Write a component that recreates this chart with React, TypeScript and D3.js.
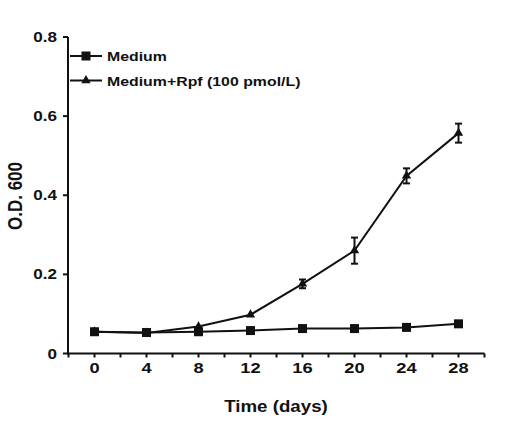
import React from "react";
import * as d3 from "d3";

const days = [0, 4, 8, 12, 16, 20, 24, 28];
const medium = [0.055, 0.053, 0.055, 0.058, 0.063, 0.063, 0.066, 0.075];
const rpf = [0.055, 0.052, 0.068, 0.098, 0.176, 0.26, 0.449, 0.557];
const rpfErr = [0, 0, 0, 0, 0.011, 0.033, 0.019, 0.024];
const yTicks = [0, 0.2, 0.4, 0.6, 0.8];
const yTickLabels = ["0", "0.2", "0.4", "0.6", "0.8"];
const xMinorTicks = [-2, 2, 6, 10, 14, 18, 22, 26, 30];
const seriesNames = ["Medium", "Medium+Rpf (100 pmol/L)"];

const W = 509;
const H = 433;
const FONT = "'Liberation Sans', Arial, sans-serif";
const SX = 1.22;

function STxt({ x, y, size, anchor = "start", children, sx = SX }: any) {
  return (
    <text
      transform={`translate(${x},${y}) scale(${sx},1)`}
      fontFamily={FONT}
      fontWeight="bold"
      fontSize={size}
      textAnchor={anchor}
      fill="#111"
    >
      {children}
    </text>
  );
}

export default function App() {
  const x = d3.scaleLinear().domain([-2, 30]).range([68.5, 484.5]);
  const y = d3.scaleLinear().domain([0, 0.8]).range([353.5, 37]);
  const line = d3
    .line<[number, number]>()
    .x((d) => x(d[0]))
    .y((d) => y(d[1]));
  const medPts = days.map((d, i) => [d, medium[i]] as [number, number]);
  const rpfPts = days.map((d, i) => [d, rpf[i]] as [number, number]);
  const sq = 9;
  const tri = d3.symbol().type(d3.symbolTriangle).size(38)();
  const axisX = x(-2) - 0.5;
  const axisY = y(0);

  return (
    <svg
      width={W}
      height={H}
      style={{ position: "absolute", left: 0, top: 0, background: "#fff" }}
    >
      <rect width={W} height={H} fill="#fff" />
      {/* Y axis */}
      <line x1={axisX} x2={axisX} y1={y(0.8)} y2={axisY + 1} stroke="#111" strokeWidth={2} />
      {yTicks.map((t, i) => (
        <g key={t}>
          <line x1={axisX - 5} x2={axisX} y1={y(t)} y2={y(t)} stroke="#111" strokeWidth={2} />
          <STxt x={57} y={y(t) + 5} size={14} anchor="end">
            {yTickLabels[i]}
          </STxt>
        </g>
      ))}
      {/* X axis */}
      <line x1={axisX - 1} x2={x(30)} y1={axisY} y2={axisY} stroke="#111" strokeWidth={2} />
      {xMinorTicks.map((t) => (
        <line key={"m" + t} x1={x(t)} x2={x(t)} y1={axisY} y2={axisY + 4} stroke="#111" strokeWidth={2} />
      ))}
      {days.map((t) => (
        <g key={"x" + t}>
          <line x1={x(t)} x2={x(t)} y1={axisY} y2={axisY + 4} stroke="#111" strokeWidth={2} />
          <STxt x={x(t)} y={373} size={15} anchor="middle">
            {String(t)}
          </STxt>
        </g>
      ))}
      {/* Axis titles */}
      <STxt x={276} y={412} size={17} anchor="middle" sx={1.1}>
        Time (days)
      </STxt>
      <text
        transform={`translate(22,196) rotate(-90) scale(1,1.2)`}
        fontFamily={FONT}
        fontWeight="bold"
        fontSize={17}
        textAnchor="middle"
        fill="#111"
      >
        O.D. 600
      </text>
      {/* Lines */}
      <path d={line(medPts) || ""} fill="none" stroke="#111" strokeWidth={2} />
      <path d={line(rpfPts) || ""} fill="none" stroke="#111" strokeWidth={2} />
      {/* Error bars */}
      {days.map((d, i) =>
        rpfErr[i] > 0 ? (
          <g key={"e" + d} stroke="#111" strokeWidth={2}>
            <line x1={x(d)} x2={x(d)} y1={y(rpf[i] - rpfErr[i])} y2={y(rpf[i] + rpfErr[i])} />
            <line x1={x(d) - 3.5} x2={x(d) + 3.5} y1={y(rpf[i] - rpfErr[i])} y2={y(rpf[i] - rpfErr[i])} />
            <line x1={x(d) - 3.5} x2={x(d) + 3.5} y1={y(rpf[i] + rpfErr[i])} y2={y(rpf[i] + rpfErr[i])} />
          </g>
        ) : null
      )}
      {/* Markers */}
      {rpfPts.map((p) => (
        <path key={"t" + p[0]} d={tri || ""} transform={`translate(${x(p[0])},${y(p[1])})`} fill="#111" />
      ))}
      {medPts.map((p) => (
        <rect key={"s" + p[0]} x={x(p[0]) - sq / 2} y={y(p[1]) - sq / 2} width={sq} height={sq} fill="#111" />
      ))}
      {/* Legend */}
      <g>
        <line x1={70} x2={102} y1={56} y2={56} stroke="#111" strokeWidth={2} />
        <rect x={86 - sq / 2} y={56 - sq / 2} width={sq} height={sq} fill="#111" />
        <STxt x={107} y={61} size={13}>
          {seriesNames[0]}
        </STxt>
        <line x1={70} x2={102} y1={80.5} y2={80.5} stroke="#111" strokeWidth={2} />
        <path d={tri || ""} transform={`translate(86,80.5)`} fill="#111" />
        <STxt x={107} y={85.5} size={13}>
          {seriesNames[1]}
        </STxt>
      </g>
    </svg>
  );
}
